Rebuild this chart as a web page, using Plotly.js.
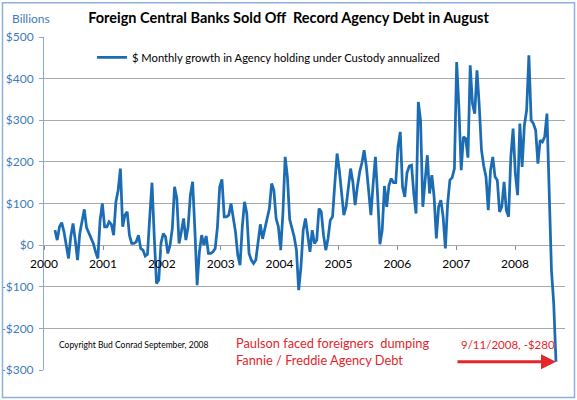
<!DOCTYPE html>
<html>
<head>
<meta charset="utf-8">
<script src="https://cdn.plot.ly/plotly-3.0.1.min.js"></script>
<style>
  html, body { margin: 0; padding: 0; background: #ffffff; }
  #chart { width: 577px; height: 400px; }
</style>
</head>
<body>
<div id="chart"></div>
<script>
// Biweekly readings, $ billions (monthly growth in agency holdings under custody, annualized)
const seriesStart = '2000-03-09';
const stepDays = 14;
const growth2000 = [36, 12, 44, 54, 32, -4, -32, 20, 52, 12, -36, 28, 60, 86, 42, 28, 14, 4, -16, -32, 60, 100];
const growth2001 = [44, 44, 56, 50, 24, 104, 132, 184, 44, 72, 80, 24, 4, 4, 8, 24, -8, -12, -26, -22, 68, 150, 20, -92, -84, 5];
const growth2002 = [28, 20, -20, 0, 40, 140, 112, 4, 32, 64, 12, 44, 120, 152, 36, -96, -16, 24, 0, 22, -20, -20, -16, -8, 44, 140];
const growth2003 = [158, 68, 68, 72, 100, 60, 32, -24, -48, 44, 104, 76, -20, -36, -44, -36, 12, 50, 15, 42, 68, 88, 148, 132, 64, 44];
const growth2004 = [-12, 76, 212, 164, 62, 40, 20, -12, -108, -52, 36, 64, 20, -16, 36, 4, 12, 88, 80, 24, -12, 16, 60, 68, 148, 220];
const growth2005 = [180, 128, 72, 92, 132, 184, 152, 96, 140, 175, 198, 228, 188, 120, 72, 148, 212, 116, 2, 36, 142, 92, 144, 160, 150, 150];
const growth2006 = [236, 272, 140, 116, 174, 190, 192, 124, 76, 344, 300, 92, 148, 216, 124, 168, 116, 16, 92, 108, 68, -8, 100, 156, 162, 184];
const growth2007 = [440, 330, 180, 260, 256, 210, 432, 340, 316, 420, 336, 228, 190, 164, 84, 180, 212, 164, 156, 80, 92, 152, 84, 68, 212, 280];
const growth2008 = [172, 120, 292, 188, 288, 324, 456, 300, 292, 276, 196, 252, 248, 260, 316, 140, -60, -140, -280];

const yTickVals = [-300, -200, -100, 0, 100, 200, 300, 400, 500];
const yTickText = ['-$300', '-$200', '-$100', '$0', '$100', '$200', '$300', '$400', '$500'];
const xTickVals = ['2000-01-01', '2001-01-01', '2002-01-01', '2003-01-01', '2004-01-01',
                   '2005-01-01', '2006-01-01', '2007-01-01', '2008-01-01'];
const xTickText = ['2000', '2001', '2002', '2003', '2004', '2005', '2006', '2007', '2008'];

const values = [].concat(growth2000, growth2001, growth2002, growth2003, growth2004,
                         growth2005, growth2006, growth2007, growth2008);
const dates = [];
const t0 = Date.parse(seriesStart + 'T00:00:00Z');
for (let i = 0; i < values.length; i++) {
  dates.push(new Date(t0 + i * stepDays * 86400000).toISOString().slice(0, 10));
}

const FONT = 'Lato, "Open Sans", sans-serif';
const L = 44, R = 12, T = 36.7, B = 30;
const PW = 577 - L - R, PH = 400 - T - B;
const px = v => (v - L) / PW;
const py = v => (400 - B - v) / PH;

const trace = {
  type: 'scatter',
  mode: 'lines',
  x: dates,
  y: values,
  name: '$ Monthly growth in Agency holding under Custody annualized',
  line: { color: '#1C6CB4', width: 2.75 },
  hoverinfo: 'x+y'
};

const layout = {
  width: 577,
  height: 400,
  margin: { l: L, r: R, t: T, b: B, pad: 0 },
  paper_bgcolor: '#ffffff',
  plot_bgcolor: '#ffffff',
  font: { family: FONT, size: 12, color: '#000000' },
  title: {
    text: 'Foreign Central Banks Sold Off \u00a0Record Agency Debt in August',
    font: { family: FONT, size: 14.5, color: '#000000', weight: 'bold' },
    x: 0.5, xref: 'container', xanchor: 'center',
    y: 1 - 18 / 400, yref: 'container', yanchor: 'middle'
  },
  showlegend: true,
  legend: {
    x: px(92), y: py(57), xanchor: 'left', yanchor: 'middle',
    bgcolor: 'rgba(0,0,0,0)', borderwidth: 0,
    font: { family: FONT, size: 11.2, color: '#000000' },
    itemwidth: 30
  },
  xaxis: {
    type: 'date',
    range: ['2000-01-01', '2008-11-06'],
    tickvals: xTickVals,
    ticktext: xTickText,
    showgrid: false,
    zeroline: false,
    showline: false,
    ticks: 'outside',
    ticklen: 4,
    tickcolor: '#8C8C8C',
    tickfont: { family: FONT, size: 12, color: '#000000' },
    ticklabelstandoff: 3,
    anchor: 'free',
    position: 300 / 800,
    fixedrange: true
  },
  yaxis: {
    range: [-300, 500],
    tickvals: yTickVals,
    ticktext: yTickText,
    showgrid: true,
    gridcolor: '#A8A8A8',
    gridwidth: 1,
    zeroline: false,
    showline: true,
    linecolor: '#8EAACB',
    linewidth: 1,
    ticks: 'outside',
    ticklen: 4,
    tickcolor: '#8EAACB',
    tickfont: { family: FONT, size: 12, color: '#3F7BBE' },
    ticklabelstandoff: 3,
    fixedrange: true
  },
  shapes: [
    {
      type: 'rect', xref: 'paper', yref: 'paper',
      x0: px(2.5), x1: px(574.5), y0: py(397.5), y1: py(2.5),
      line: { color: '#8DB1DC', width: 1.5 },
      fillcolor: 'rgba(0,0,0,0)'
    }
  ],
  annotations: [
    {
      text: 'Billions', xref: 'paper', yref: 'paper',
      x: px(10), y: py(18), xanchor: 'left', yanchor: 'middle',
      showarrow: false, font: { family: FONT, size: 12, color: '#3F7BBE' }
    },
    {
      text: 'Copyright Bud Conrad September, 2008', xref: 'paper', yref: 'paper',
      x: px(57), y: py(345), xanchor: 'left', yanchor: 'middle',
      showarrow: false, font: { family: FONT, size: 8.5, color: '#000000' }
    },
    {
      text: 'Paulson faced foreigners \u00a0dumping<br>Fannie / Freddie Agency Debt',
      xref: 'paper', yref: 'paper', align: 'left',
      x: px(234), y: py(351), xanchor: 'left', yanchor: 'middle',
      showarrow: false, font: { family: FONT, size: 12.8, color: '#E3262B' }
    },
    {
      text: '9/11/2008, -$280', xref: 'paper', yref: 'paper',
      x: px(459), y: py(344), xanchor: 'left', yanchor: 'middle',
      showarrow: false, font: { family: FONT, size: 11.5, color: '#E3262B' }
    },
    {
      text: '', xref: 'x', yref: 'y',
      x: dates[dates.length - 1], y: values[values.length - 1],
      showarrow: true, ax: -100, ay: 0, axref: 'pixel', ayref: 'pixel',
      arrowhead: 2, arrowsize: 1, arrowwidth: 3, arrowcolor: '#E3262B', standoff: 0
    }
  ]
};

Plotly.newPlot('chart', [trace], layout, { staticPlot: true, displayModeBar: false });
</script>
</body>
</html>
